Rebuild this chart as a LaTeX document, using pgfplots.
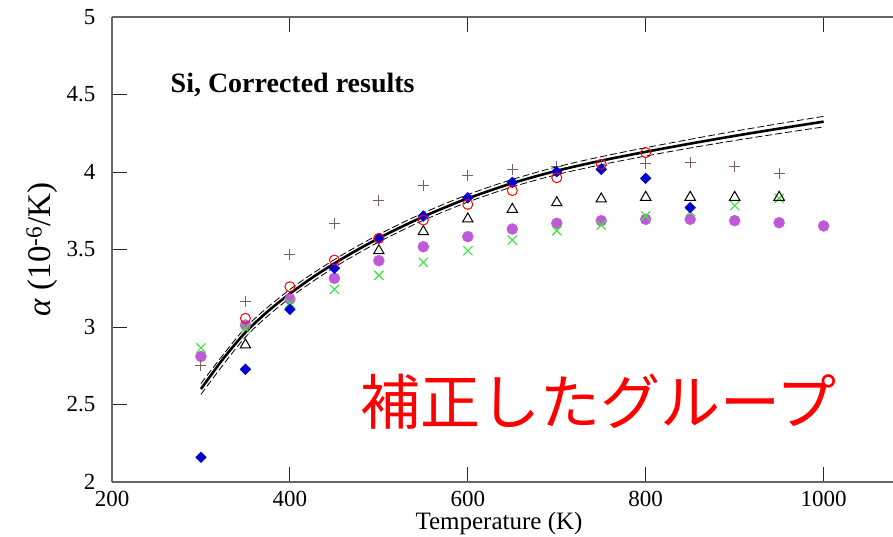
\documentclass[border=0pt]{standalone}
\usepackage{pgfplots}
\usepackage{pgfplotstable}
\pgfplotsset{compat=1.18}
\usepackage{fontspec}
\setmainfont{Liberation Serif}
\newfontfamily\cjk{Noto Sans CJK JP}

\definecolor{plusbrown}{RGB}{125,95,90}
\definecolor{diablue}{RGB}{0,0,210}
\definecolor{dotpurple}{RGB}{190,90,215}
\definecolor{xgreen}{RGB}{60,230,60}

% measured thermal expansion coefficients (10^-6/K), six data sets
\pgfplotstableread{
T     plus   circ   tri    dia    pur    grn
300   2.750  nan    nan    2.160  2.810  2.865
350   3.163  3.056  2.884  2.727  3.013  2.990
400   3.465  3.260  nan    3.114  3.180  3.155
450   3.669  3.432  nan    3.379  3.314  3.243
500   3.815  3.572  3.492  3.572  3.428  3.333
550   3.912  3.690  3.615  3.716  3.518  3.417
600   3.976  3.791  3.697  3.834  3.583  3.492
650   4.013  3.880  3.759  3.933  3.632  3.561
700   4.034  3.963  3.802  4.002  3.669  3.621
750   4.040  4.050  3.826  4.017  3.686  3.658
800   4.056  4.125  3.837  3.959  3.695  3.716
850   4.060  nan    3.837  3.770  3.695  3.744
900   4.034  nan    3.837  nan    3.686  3.783
950   3.990  nan    3.837  nan    3.673  3.830
1000  nan    nan    nan    nan    3.652  nan
}\datatable

% fitted curve
\pgfplotstableread{
T     a
300   2.600
325   2.795
350   2.965
375   3.100
400   3.215
425   3.318
450   3.410
475   3.495
500   3.573
525   3.645
550   3.712
575   3.773
600   3.830
650   3.928
700   4.008
750   4.073
800   4.130
850   4.183
900   4.233
950   4.280
1000  4.325
}\fittable

% upper and lower bounds of the fit
\pgfplotstableread{
T     up     lo
300   2.635  2.565
350   2.995  2.935
400   3.242  3.188
450   3.435  3.385
500   3.597  3.549
550   3.736  3.688
600   3.854  3.806
650   3.952  3.904
700   4.033  3.983
750   4.099  4.047
800   4.157  4.103
850   4.211  4.155
900   4.263  4.203
950   4.312  4.248
1000  4.359  4.291
}\bandtable

\begin{document}
\begin{tikzpicture}
\path[use as bounding box] (0,0) rectangle (893pt,536pt);
\begin{axis}[
  at={(112pt,54pt)}, anchor=south west,
  scale only axis, width=781pt, height=465pt,
  xmin=200, xmax=1078, ymin=2, ymax=5,
  enlargelimits=false,
  axis x line*=box, axis y line*=left,
  axis line style={black!60, line width=1.3pt},
  tick align=inside,
  major tick length=15pt,
  every tick/.style={black!85, line width=1pt},
  xtick={200,400,...,1000},
  ytick={2,2.5,...,5},
  xticklabel pos=lower,
  /pgf/number format/assume math mode=true,
  /pgf/number format/1000 sep={},
  tick label style={font=\fontsize{23}{26}\selectfont},
  xticklabel style={inner ysep=0pt, yshift=-9pt},
  yticklabel style={xshift=-13pt},
  xlabel={Temperature (K)},
  xlabel style={font=\fontsize{25}{28}\selectfont, inner sep=0pt, at={(axis description cs:0.4955,0)}, anchor=base, yshift=-47.5pt},
  ylabel={\textit{α} (10\textsuperscript{-6}/K)},
  ylabel style={font=\fontsize{33}{35}\selectfont, at={(axis description cs:-0.0896,0.5)}, anchor=center},
]
\addplot[only marks, mark=*, mark size=5.5pt, color=dotpurple] table[x=T, y=pur] {\datatable};
\addplot[only marks, mark=x, mark size=6.5pt, color=xgreen, line width=1.1pt] table[x=T, y=grn] {\datatable};
\addplot[only marks, mark=+, mark size=5.5pt, color=plusbrown, line width=1pt] table[x=T, y=plus] {\datatable};
\addplot[only marks, mark=triangle, mark size=6pt, color=black, line width=1pt] table[x=T, y=tri] {\datatable};

\addplot[smooth, black, line width=0.8pt, dash pattern=on 7pt off 3pt] table[x=T, y=up] {\bandtable};
\addplot[smooth, black, line width=0.8pt, dash pattern=on 7pt off 3pt] table[x=T, y=lo] {\bandtable};
\addplot[smooth, black, line width=2.6pt] table[x=T, y=a] {\fittable};

\addplot[only marks, mark=square*, mark size=3.8pt, mark options={rotate=45}, color=diablue] table[x=T, y=dia] {\datatable};
\addplot[only marks, mark=o, mark size=5pt, color=red, line width=1pt] table[x=T, y=circ] {\datatable};

\node[anchor=base west, font=\bfseries\fontsize{28}{30}\selectfont] at (axis cs:262,4.51) {Si, Corrected results};
\node[font=\cjk\fontsize{60}{64}\selectfont, text=red] at (axis cs:747,2.516) {補正したグループ};
\end{axis}
\end{tikzpicture}
\end{document}
